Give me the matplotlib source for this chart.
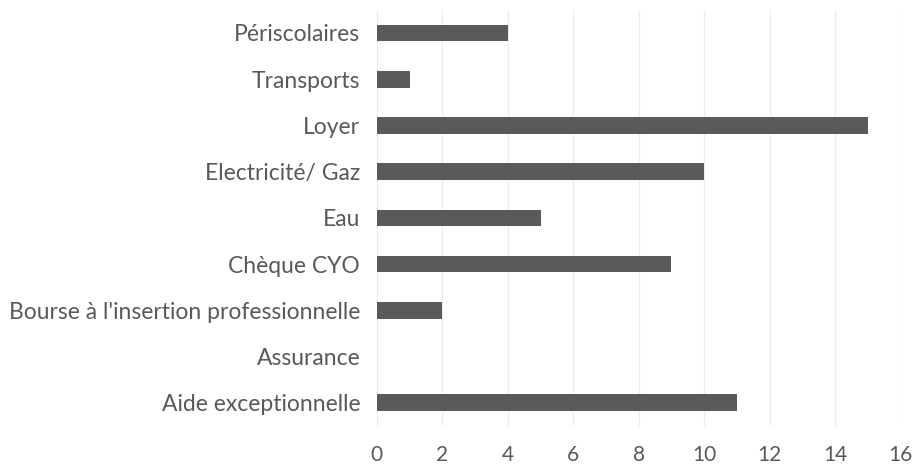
import matplotlib.pyplot as plt

# Catégories (de haut en bas) et valeurs
categories = ["Périscolaires", "Transports", "Loyer", "Electricité/ Gaz", "Eau",
              "Chèque CYO", "Bourse à l'insertion professionnelle", "Assurance",
              "Aide exceptionnelle"]
values = [4, 1, 15, 10, 5, 9, 2, 0, 11]
xticks = [0, 2, 4, 6, 8, 10, 12, 14, 16]

plt.rcParams["font.family"] = ["Lato", "DejaVu Sans"]

fig = plt.figure(figsize=(9.17, 4.71), dpi=100)
ax = fig.add_axes([0.411, 0.096, 0.571, 0.883])

pos = list(range(len(categories)))
ax.barh(pos, values, height=0.36, color="#5a5a5a", zorder=3)
ax.set_yticks(pos)
ax.set_yticklabels(categories)
ax.set_ylim(len(categories) - 0.5, -0.5)
ax.set_xlim(0, 16)
ax.set_xticks(xticks)

ax.grid(axis="x", color="#ececec", linewidth=0.8, zorder=0)
for s in ax.spines.values():
    s.set_visible(False)
ax.tick_params(axis="both", length=0, labelcolor="#595959")
ax.tick_params(axis="y", pad=12, labelsize=16.5)
ax.tick_params(axis="x", pad=14, labelsize=15)

fig.savefig("out.png", dpi=100)
